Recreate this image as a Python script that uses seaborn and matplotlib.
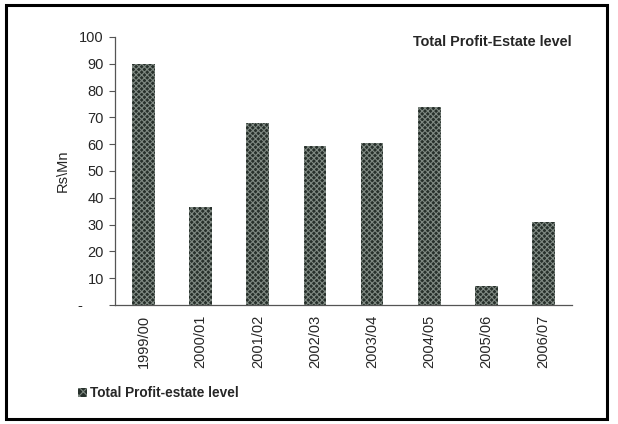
import matplotlib
matplotlib.use("Agg")
import matplotlib.pyplot as plt
from matplotlib.patches import Rectangle
from matplotlib.ticker import FixedLocator
import seaborn as sns
import pandas as pd

# Annual totals, Rs. million
years = ["1999/00", "2000/01", "2001/02", "2002/03",
         "2003/04", "2004/05", "2005/06", "2006/07"]
profit = [89.8, 36.7, 68.0, 59.3, 60.3, 74.0, 7.0, 31.1]
y_ticks = [0, 10, 20, 30, 40, 50, 60, 70, 80, 90, 100]
y_tick_labels = ["-     ", "10", "20", "30", "40", "50", "60", "70", "80", "90", "100"]
series_name = "Total Profit-estate level"
title_text = "Total Profit-Estate level"

df = pd.DataFrame({"year": years, "profit": profit})

sns.set_style("white")
plt.rcParams["font.family"] = ["Liberation Sans", "DejaVu Sans"]
plt.rcParams["hatch.linewidth"] = 0.8

fig = plt.figure(figsize=(6.18, 4.24), dpi=100)
ax = fig.add_axes([115 / 618, 1 - 305 / 424, (572 - 115) / 618, (305 - 37) / 424])

bar_face = "#27302b"
hatch_col = "#7f8982"
sns.barplot(data=df, x="year", y="profit", ax=ax, width=0.4,
            color=bar_face, saturation=1, edgecolor=hatch_col,
            linewidth=0, hatch="xxxxxx")

ax.set_xlim(-0.5, len(years) - 0.5)
ax.set_ylim(0, 100)
ax.set_yticks(y_ticks)
ax.set_yticklabels(y_tick_labels, fontsize=10.5)
ax.set_xlabel("")
ax.set_ylabel("Rs\\Mn", fontsize=10.5)
ax.yaxis.set_label_coords(-0.098, 0.5)

ax.set_xticks(range(len(years)))
ax.set_xticklabels(years, rotation=90, fontsize=10.5)
ax.xaxis.set_minor_locator(FixedLocator([i - 0.5 for i in range(len(years) + 1)]))
ax.tick_params(axis="x", which="major", length=0, pad=7)
ax.tick_params(axis="x", which="minor", length=4, width=0.8, color="#555555", direction="out")
ax.tick_params(axis="y", length=4, width=0.8, color="#555555", direction="out", left=True, pad=4)

for side in ("top", "right"):
    ax.spines[side].set_visible(False)
for side in ("left", "bottom"):
    ax.spines[side].set_color("#555555")
    ax.spines[side].set_linewidth(0.9)

fig.text(572 / 618, 1 - 42 / 424, title_text, ha="right", va="center",
         fontsize=10.4, fontweight="bold")

# Legend key and label beneath the axis labels
fig.patches.append(Rectangle((78 / 618, 1 - 397 / 424), 9 / 618, 9 / 424,
                             transform=fig.transFigure, facecolor=bar_face,
                             edgecolor=hatch_col, linewidth=0, hatch="xxxx"))
fig.text(90 / 618, 1 - 393 / 424, series_name, ha="left", va="center",
         fontsize=9.8, fontweight="bold")

# Outer chart frame
fig.patches.append(Rectangle((6 / 618, 5 / 424), 601 / 618, 414 / 424,
                             transform=fig.transFigure, fill=False,
                             edgecolor="black", linewidth=2.2))

fig.savefig("out.png", dpi=100)
